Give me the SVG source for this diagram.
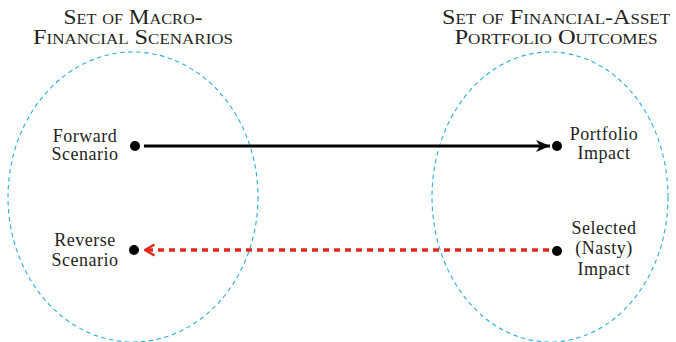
<svg xmlns="http://www.w3.org/2000/svg" width="676" height="342" viewBox="0 0 676 342">
<defs>
<style>
.set{fill:none;stroke:#29aee0;stroke-width:1.1;stroke-dasharray:4.5 3.5}
.title{font-family:"Liberation Serif","Times New Roman",serif;font-size:20px;font-variant:small-caps;fill:#231f20;text-anchor:middle}
.lbl{font-family:"Liberation Serif","Times New Roman",serif;font-size:18px;letter-spacing:0.5px;fill:#231f20;text-anchor:middle}
.dot{fill:#000}
.fwd{stroke:#000;stroke-width:3;fill:none}
.rev{stroke:#e0281e;stroke-width:3.5;fill:none;stroke-dasharray:6 5}
</style>
<marker id="blackHead" markerUnits="userSpaceOnUse" markerWidth="16" markerHeight="14" refX="14" refY="7" orient="auto">
<path d="M0,1 L14,7 L0,13 L4,7 Z" fill="#000"/>
</marker>
<marker id="redHead" markerUnits="userSpaceOnUse" markerWidth="14" markerHeight="14" refX="1.5" refY="7" orient="auto">
<path d="M11,1.5 L1.5,7 L11,12.5" fill="none" stroke="#e0281e" stroke-width="2.5"/>
</marker>
</defs>
<rect width="676" height="342" fill="#fff"/>
<g id="set-macro">
<ellipse class="set" cx="133" cy="197" rx="125" ry="145"/>
<text class="title" x="133" y="23.5" textLength="139" lengthAdjust="spacingAndGlyphs">Set of Macro-</text>
<text class="title" x="133" y="43.5" textLength="200" lengthAdjust="spacingAndGlyphs">Financial Scenarios</text>
</g>
<g id="set-portfolio">
<ellipse class="set" cx="550" cy="197" rx="118" ry="145"/>
<text class="title" x="556" y="23.5" textLength="228" lengthAdjust="spacingAndGlyphs">Set of Financial-Asset</text>
<text class="title" x="556" y="43.5" textLength="203" lengthAdjust="spacingAndGlyphs">Portfolio Outcomes</text>
</g>
<g id="connectors">
<line class="fwd" x1="144" y1="146" x2="550" y2="146" marker-end="url(#blackHead)"/>
<line class="rev" x1="549" y1="250" x2="145" y2="250"/>
<path d="M143,250 L145,250" stroke="none" fill="none" marker-end="url(#redHead)"/>
</g>
<g id="forward-scenario">
<circle class="dot" cx="135" cy="146" r="5"/>
<text class="lbl" x="85" y="141.5">Forward</text>
<text class="lbl" x="85" y="160">Scenario</text>
</g>
<g id="portfolio-impact">
<circle class="dot" cx="557" cy="146" r="5"/>
<text class="lbl" x="604" y="140">Portfolio</text>
<text class="lbl" x="604" y="158.5">Impact</text>
</g>
<g id="reverse-scenario">
<circle class="dot" cx="134" cy="250" r="5"/>
<text class="lbl" x="85" y="246">Reverse</text>
<text class="lbl" x="85" y="266">Scenario</text>
</g>
<g id="selected-impact">
<circle class="dot" cx="557" cy="251" r="5"/>
<text class="lbl" x="604" y="234">Selected</text>
<text class="lbl" x="604" y="254">(Nasty)</text>
<text class="lbl" x="604" y="275">Impact</text>
</g>
</svg>
